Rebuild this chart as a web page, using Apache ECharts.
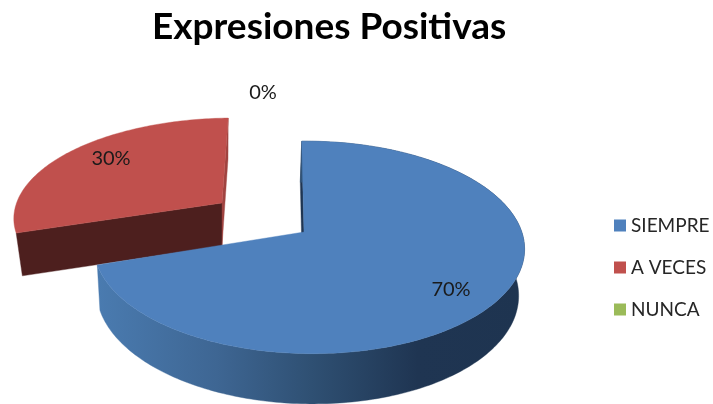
<!DOCTYPE html>
<html>
<head>
<meta charset="utf-8">
<style>html,body{margin:0;padding:0;background:#fff}#chart{width:713px;height:404px}</style>
<script src="https://cdn.jsdelivr.net/npm/echarts@6/dist/echarts.min.js"></script>
</head>
<body>
<div id="chart"></div>
<script>
// Chart content
const chartTitle = 'Expresiones Positivas';
const categories = ['SIEMPRE', 'A VECES', 'NUNCA'];
const percentages = [70, 30, 0];

// Perspective disc used for each slice; angles come from the percentages.
const blueSideFill = new echarts.graphic.LinearGradient(0, 0, 1, 0, [
  { offset: 0, color: '#4a7bb0' },
  { offset: 0.28, color: '#3e6693' },
  { offset: 0.5, color: '#2f5073' },
  { offset: 0.75, color: '#1f3552' },
  { offset: 1, color: '#1e3450' }
]);
const sliceLooks = [
  { top: '#4f81bd', apex: [304, 232], rx: 213, ry: 104, k: 0.145, m: 0.022, sx: 2.6,
    depth: 45, shrink: 0.98, shift: -1.5, rimFill: blueSideFill, farWall: '#1f3552', frontWall: null,
    label: [451, 290], z: 3 },
  { top: '#c0504d', apex: [222, 203], rx: 211, ry: 96, k: 0.13, m: 0.027, sx: -7,
    depth: 43, shrink: 0.97, shift: 0, rimFill: null, farWall: '#a04340', frontWall: '#4d1f1e',
    label: [111, 159], z: 2 },
  { top: '#9bbb59', apex: [304, 232], rx: 213, ry: 104, k: 0.145, m: 0.022, sx: 2.6,
    depth: 45, shrink: 0.98, shift: 0, rimFill: null, farWall: null, frontWall: null,
    label: [263, 93], z: 1 }
];

const labelFont = '20px Lato, sans-serif';

function project(look, deg, lower) {
  const t = deg * Math.PI / 180;
  const u = Math.sin(t), v = -Math.cos(t);
  const s = 1 / (1 - look.k * v - look.m * u);
  const b = lower ? look.shrink : 1;
  const x = (look.rx * u + look.sx * v) * s * b + (lower ? look.shift : 0);
  const y = look.ry * v * s * b + (lower ? look.depth * s : 0);
  return [look.apex[0] + x, look.apex[1] + y];
}

function arc(look, from, to, lower) {
  const pts = [];
  const steps = Math.max(2, Math.ceil(Math.abs(to - from)));
  for (let i = 0; i <= steps; i++) pts.push(project(look, from + (to - from) * i / steps, lower));
  return pts;
}

function apexPoint(look, lower) {
  return [look.apex[0] + (lower ? look.shift : 0), look.apex[1] + (lower ? look.depth : 0)];
}

function poly(points, fill) {
  return { type: 'polygon', shape: { points }, style: { fill, stroke: fill, lineWidth: 0.4 } };
}

function radialWall(look, deg, fill) {
  return poly([
    apexPoint(look, false), project(look, deg, false),
    project(look, deg, true), apexPoint(look, true)
  ], fill);
}

function sliceSeries(index) {
  const look = sliceLooks[index];
  const total = percentages.reduce((a, b) => a + b, 0);
  const before = percentages.slice(0, index).reduce((a, b) => a + b, 0);
  return {
    type: 'custom',
    name: categories[index],
    coordinateSystem: 'none',
    z: look.z,
    silent: true,
    itemStyle: { color: look.top },
    data: [[percentages[index]]],
    renderItem(params, api) {
      const value = api.value(0);
      const from = before / total * 360;
      const to = from + value / total * 360;
      const children = [];
      if (value > 0) {
        // The exploded slice shows its leading cut towards the viewer and a sliver of the 12 o'clock cut
        if (look.frontWall) children.push(radialWall(look, from, look.frontWall));
        if (look.farWall) children.push(radialWall(look, look.frontWall ? to : from, look.farWall));
        if (look.rimFill) {
          children.push(poly(arc(look, from, to, false).concat(arc(look, to, from, true)), look.rimFill));
        }
        children.push(poly([apexPoint(look, false)].concat(arc(look, from, to, false)), look.top));
      }
      children.push({
        type: 'text',
        z2: 10,
        style: {
          text: Math.round(value / total * 100) + '%',
          x: look.label[0], y: look.label[1],
          align: 'center', verticalAlign: 'middle',
          font: labelFont, fill: '#1a1a1a'
        }
      });
      return { type: 'group', children };
    }
  };
}

const chart = echarts.init(document.getElementById('chart'), null, { renderer: 'canvas' });
chart.setOption({
  animation: false,
  backgroundColor: '#ffffff',
  title: {
    text: chartTitle,
    left: 147,
    top: 4,
    textStyle: { fontFamily: 'Lato, sans-serif', fontWeight: 'bold', fontSize: 37, color: '#000000' }
  },
  legend: {
    orient: 'vertical',
    left: 614,
    top: 216,
    padding: 0,
    itemWidth: 12,
    itemHeight: 12,
    itemGap: 23,
    icon: 'rect',
    selectedMode: false,
    textStyle: { fontFamily: 'Lato, sans-serif', fontSize: 19, color: '#262626' },
    data: categories
  },
  series: categories.map((_, i) => sliceSeries(i))
});
</script>
</body>
</html>
